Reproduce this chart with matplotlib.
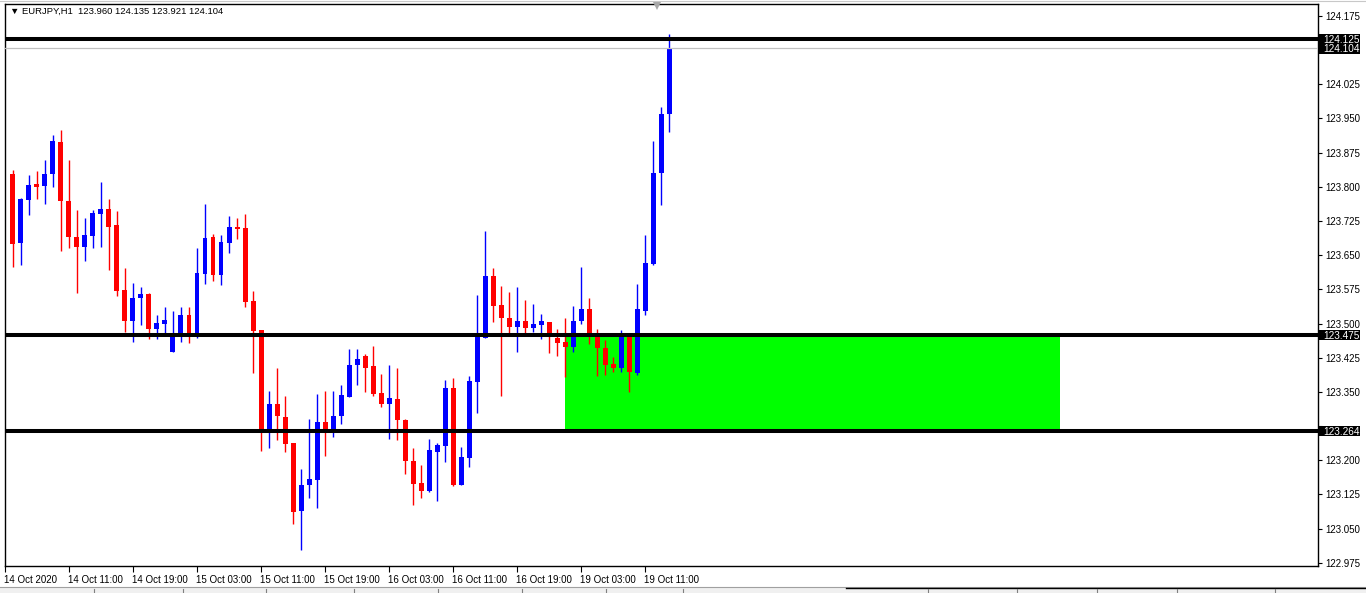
import numpy as np
import matplotlib
matplotlib.use("Agg")
import matplotlib.pyplot as plt
import matplotlib.transforms as mtransforms
from matplotlib.patches import Rectangle
from matplotlib.lines import Line2D

plt.rcParams['font.family'] = ['Liberation Sans', 'DejaVu Sans']

######################################## DATA ########################################
# EURJPY H1 candles, bar 1 = 14 Oct 04:00 ... bar 83 = 19 Oct 14:00
opens = [123.828, 123.677, 123.772, 123.806, 123.802, 123.829, 123.899, 123.769, 123.690, 123.669,
         123.693, 123.741, 123.751, 123.716, 123.574, 123.506, 123.557, 123.565, 123.489, 123.500,
         123.438, 123.474, 123.519, 123.474, 123.609, 123.690, 123.607, 123.677, 123.712, 123.710,
         123.549, 123.486, 123.268, 123.323, 123.294, 123.238, 123.089, 123.146, 123.157, 123.284,
         123.259, 123.298, 123.339, 123.410, 123.429, 123.407, 123.347, 123.324, 123.334, 123.288,
         123.198, 123.150, 123.133, 123.219, 123.232, 123.358, 123.145, 123.205, 123.372, 123.469,
         123.604, 123.541, 123.512, 123.493, 123.505, 123.491, 123.497, 123.503, 123.468, 123.460,
         123.449, 123.505, 123.532, 123.475, 123.446, 123.411, 123.403, 123.475, 123.392, 123.528,
         123.631, 123.831, 123.960]
highs = [123.836, 123.775, 123.826, 123.835, 123.859, 123.914, 123.925, 123.859, 123.749, 123.732,
         123.749, 123.811, 123.773, 123.747, 123.622, 123.589, 123.580, 123.567, 123.519, 123.536,
         123.527, 123.536, 123.536, 123.666, 123.762, 123.696, 123.694, 123.736, 123.732, 123.740,
         123.571, 123.486, 123.352, 123.402, 123.341, 123.238, 123.180, 123.291, 123.345, 123.352,
         123.352, 123.365, 123.444, 123.444, 123.433, 123.451, 123.389, 123.409, 123.402, 123.290,
         123.227, 123.189, 123.247, 123.238, 123.376, 123.380, 123.229, 123.385, 123.563, 123.703,
         123.622, 123.582, 123.569, 123.580, 123.552, 123.543, 123.521, 123.503, 123.488, 123.512,
         123.538, 123.624, 123.556, 123.488, 123.464, 123.426, 123.486, 123.475, 123.587, 123.694,
         123.901, 123.975, 124.135]
lows = [123.623, 123.629, 123.739, 123.774, 123.763, 123.800, 123.660, 123.666, 123.568, 123.638,
        123.666, 123.669, 123.618, 123.560, 123.482, 123.460, 123.497, 123.465, 123.467, 123.473,
        123.438, 123.460, 123.458, 123.469, 123.587, 123.594, 123.585, 123.655, 123.686, 123.537,
        123.392, 123.221, 123.227, 123.245, 123.219, 123.061, 123.003, 123.116, 123.096, 123.210,
        123.252, 123.280, 123.339, 123.364, 123.350, 123.342, 123.317, 123.247, 123.245, 123.170,
        123.102, 123.116, 123.131, 123.111, 123.197, 123.144, 123.145, 123.184, 123.304, 123.469,
        123.504, 123.341, 123.480, 123.438, 123.480, 123.482, 123.467, 123.436, 123.429, 123.383,
        123.438, 123.500, 123.454, 123.385, 123.388, 123.394, 123.394, 123.350, 123.388, 123.519,
        123.628, 123.761, 123.921]
closes = [123.675, 123.774, 123.804, 123.800, 123.828, 123.901, 123.769, 123.690, 123.669, 123.695,
          123.743, 123.751, 123.712, 123.572, 123.506, 123.556, 123.565, 123.489, 123.501, 123.508,
          123.478, 123.519, 123.479, 123.611, 123.687, 123.607, 123.679, 123.712, 123.708, 123.548,
          123.484, 123.268, 123.323, 123.296, 123.236, 123.087, 123.145, 123.159, 123.284, 123.266,
          123.297, 123.343, 123.409, 123.422, 123.403, 123.346, 123.324, 123.336, 123.289, 123.199,
          123.148, 123.133, 123.222, 123.233, 123.358, 123.145, 123.207, 123.373, 123.473, 123.604,
          123.539, 123.513, 123.493, 123.505, 123.491, 123.499, 123.505, 123.475, 123.458, 123.449,
          123.505, 123.532, 123.480, 123.447, 123.410, 123.403, 123.475, 123.394, 123.532, 123.633,
          123.830, 123.960, 124.104]

# time axis labels, one every 8 bars starting at bar 0 (14 Oct 03:00)
time_labels = ['14 Oct 2020', '14 Oct 11:00', '14 Oct 19:00', '15 Oct 03:00', '15 Oct 11:00',
               '15 Oct 19:00', '16 Oct 03:00', '16 Oct 11:00', '16 Oct 19:00', '19 Oct 03:00',
               '19 Oct 11:00']
time_ticks = [0, 8, 16, 24, 32, 40, 48, 56, 64, 72, 80]

price_ticks = [122.975, 123.050, 123.125, 123.200, 123.275, 123.350, 123.425, 123.500, 123.575,
               123.650, 123.725, 123.800, 123.875, 123.950, 124.025, 124.100, 124.175]
# scale labels hidden behind the level boxes
hidden_ticks = [124.100, 123.275]

# horizontal levels and the demand zone
levels = [124.125, 123.475, 123.264]
bid_price = 124.104
zone_low, zone_high = 123.264, 123.475
zone_start, zone_end = 70, 131.8

title = '\u25bc EURJPY,H1  123.960 124.135 123.921 124.104'

######################################## FIGURE ########################################
W, H = 1366, 593
fig = plt.figure(figsize=(W / 100, H / 100), dpi=100)
left_px, right_px, top_px, bot_px = 4.5, 1318, 3.5, 565.5
ax = fig.add_axes([left_px / W, (H - bot_px) / H, (right_px - left_px) / W, (bot_px - top_px) / H])

o = np.array(opens)
h = np.array(highs)
l = np.array(lows)
c = np.array(closes)
x = np.arange(1, len(o) + 1)
cols = np.where(c >= o, '#0000FF', '#FF0000')

# zone
ax.add_patch(Rectangle((zone_start, zone_low), zone_end - zone_start, zone_high - zone_low,
                       facecolor='#00FF00', edgecolor='none', zorder=1))

# candles
ax.vlines(x, l, h, colors=cols, linewidth=1.0, zorder=2)
body = np.maximum(np.abs(c - o), 0.0018)
ax.bar(x, body, bottom=np.minimum(o, c), width=0.62, color=cols, linewidth=0, zorder=3)

# levels
ax.axhline(bid_price, color='#C0C0C0', linewidth=0.9, zorder=4)
for lv in levels:
    ax.axhline(lv, color='black', linewidth=2.9, zorder=5)

ax.set_xlim(-0.04, 164.0)
ax.set_ylim(122.9689, 124.2024)

# axes styling
for s in ax.spines.values():
    s.set_color('black')
    s.set_linewidth(1.0)
ax.yaxis.tick_right()
ax.set_yticks(price_ticks)
ax.set_yticklabels(['' if p in hidden_ticks else '%.3f' % p for p in price_ticks])
ax.tick_params(axis='y', direction='out', length=3, width=0.8, pad=2, labelsize=7, colors='black')
ax.set_xticks(time_ticks)
ax.set_xticklabels(time_labels, ha='left')
ax.tick_params(axis='x', direction='out', length=4, width=0.8, pad=3, labelsize=7, colors='black')
for t in ax.get_xticklabels():
    t.set_horizontalalignment('left')
    t.set_transform(t.get_transform() + mtransforms.ScaledTranslation(-1 / 100, 0, fig.dpi_scale_trans))

# price boxes on the scale (10 px tall, 41 px wide)
trans = mtransforms.blended_transform_factory(ax.transAxes, ax.transData)
px_price = (124.2024 - 122.9689) / (bot_px - top_px)
box_w = 41 / (right_px - left_px)
for lv in levels + [bid_price]:
    ax.add_patch(Rectangle((1.001, lv - 5.2 * px_price), box_w, 10.4 * px_price, transform=trans,
                           facecolor='black', edgecolor='none', zorder=9, clip_on=False))
for lv in levels + [bid_price]:
    ax.text(1.004, lv - 3.8 * px_price, '%.3f' % lv, transform=trans, ha='left', va='baseline',
            fontsize=7.2, color='white', zorder=10, clip_on=False)

# title
ax.text(5 / (right_px - left_px), 1 - 8 / (bot_px - top_px), title, transform=ax.transAxes,
        ha='left', va='center', fontsize=6.8, color='black', zorder=10)

# chart shift marker
fig.add_artist(Line2D([657 / W], [(H - 6) / H], marker='v', markersize=6, color='#A8A8A8',
                      markeredgewidth=0, linestyle='none'))

# window bits: top line and bottom tab strip
fig.add_artist(Rectangle((0, 0), 1, 6 / H, transform=fig.transFigure, facecolor='#F0F0F0',
                         edgecolor='none'))
fig.add_artist(Line2D([0, 1], [6 / H, 6 / H], color='#A0A0A0', linewidth=0.8))
fig.add_artist(Line2D([846 / W, 1], [5 / H, 5 / H], color='black', linewidth=1.0))
for sx in [94, 183, 266, 354, 438, 522, 606, 683, 928, 1017, 1097, 1177, 1275]:
    fig.add_artist(Line2D([sx / W, sx / W], [0, 4 / H], color='#808080', linewidth=0.8))
fig.add_artist(Line2D([0, 1], [(H - 0.5) / H, (H - 0.5) / H], color='#C8C8C8', linewidth=0.8))

fig.savefig('out.png', dpi=100)
